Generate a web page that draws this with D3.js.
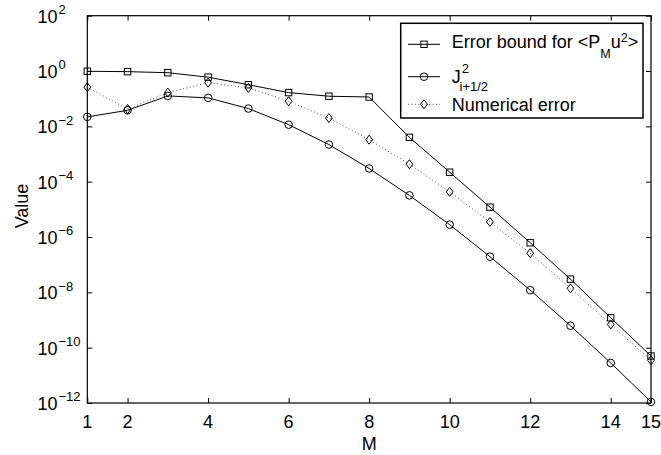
<!DOCTYPE html>
<html>
<head>
<meta charset="utf-8">
<script src="https://cdn.jsdelivr.net/npm/d3@7/dist/d3.min.js"></script>
<style>
  html, body { margin: 0; padding: 0; background: #fff; }
  svg { display: block; font-family: "Liberation Sans", Arial, Helvetica, sans-serif; }
</style>
</head>
<body>
<svg id="chart" width="661" height="455"></svg>
<script>
// Model order M
const orders = [1, 2, 3, 4, 5, 6, 7, 8, 9, 10, 11, 12, 13, 14, 15];

// Error bound for <P_M u^2>
const errorBound = [0.98, 0.95, 0.87, 0.60, 0.32, 0.166, 0.123, 0.115,
  4.0e-3, 2.2e-4, 1.2e-5, 6.2e-7, 3.0e-8, 1.2e-9, 5.0e-11];

// J^2_{i+1/2}
const jSquared = [2.2e-2, 3.8e-2, 0.126, 0.107, 4.4e-2, 1.15e-2, 2.2e-3, 3.0e-4,
  3.2e-5, 2.8e-6, 1.95e-7, 1.2e-8, 6.2e-10, 2.8e-11, 1.1e-12];

// Numerical error
const numericalError = [0.26, 4.2e-2, 0.166, 0.38, 0.245, 8.1e-2, 2.0e-2, 3.3e-3,
  4.3e-4, 4.3e-5, 3.5e-6, 2.6e-7, 1.4e-8, 6.9e-10, 3.5e-11];

// Tick values
const xTicks = [1, 2, 4, 6, 8, 10, 12, 14, 15];
const yTickExponents = [2, 0, -2, -4, -6, -8, -10, -12];

const plotLeft = 87.3, plotRight = 651, plotTop = 15.7, plotBottom = 403;

const svg = d3.select("#chart");
svg.append("rect").attr("width", 661).attr("height", 455).attr("fill", "#fff");

const x = d3.scaleLinear().domain([1, 15]).range([plotLeft, plotRight]);
const y = d3.scaleLog().domain([1e-12, 1e2]).range([plotBottom, plotTop]);
const yTicks = yTickExponents.map(e => Math.pow(10, e));

// Inward ticks on all four sides
function styleAxis(g) {
  g.select(".domain").remove();
  g.selectAll(".tick line").attr("stroke", "#000").attr("stroke-width", 1);
  g.selectAll(".tick text").remove();
}
svg.append("g").attr("transform", `translate(0,${plotBottom})`)
  .call(d3.axisBottom(x).tickValues(xTicks).tickSize(-5).tickSizeOuter(0)).call(styleAxis);
svg.append("g").attr("transform", `translate(0,${plotTop})`)
  .call(d3.axisTop(x).tickValues(xTicks).tickSize(-5).tickSizeOuter(0)).call(styleAxis);
svg.append("g").attr("transform", `translate(${plotLeft},0)`)
  .call(d3.axisLeft(y).tickValues(yTicks).tickSize(-5).tickSizeOuter(0)).call(styleAxis);
svg.append("g").attr("transform", `translate(${plotRight},0)`)
  .call(d3.axisRight(y).tickValues(yTicks).tickSize(-5).tickSizeOuter(0)).call(styleAxis);

// Plot frame
svg.append("rect")
  .attr("x", plotLeft).attr("y", plotTop)
  .attr("width", plotRight - plotLeft).attr("height", plotBottom - plotTop)
  .attr("fill", "none").attr("stroke", "#000").attr("stroke-width", 1.2);

// X tick labels
svg.append("g").selectAll("text").data(xTicks).join("text")
  .attr("x", d => x(d)).attr("y", plotBottom + 24.7)
  .attr("text-anchor", "middle").attr("font-size", 18).attr("fill", "#000")
  .text(d => d);

// Y tick labels as powers of ten
const yl = svg.append("g").selectAll("text").data(yTickExponents).join("text")
  .attr("x", 37.5).attr("y", d => y(Math.pow(10, d)) + 7)
  .attr("font-size", 18).attr("fill", "#000");
yl.append("tspan").text("10");
yl.append("tspan").attr("dx", 1).attr("dy", -8.7).attr("font-size", 13)
  .text(d => d < 0 ? "\u2212" + (-d) : String(d));

// Axis titles
svg.append("text").attr("x", (plotLeft + plotRight) / 2).attr("y", 450)
  .attr("text-anchor", "middle").attr("font-size", 18).text("M");
svg.append("text").attr("transform", "translate(28,206) rotate(-90)")
  .attr("text-anchor", "middle").attr("font-size", 18).text("Value");

// Markers
function drawMarker(g, type, cx, cy) {
  if (type === "square") {
    g.append("rect").attr("x", cx - 3.2).attr("y", cy - 3.2).attr("width", 6.4).attr("height", 6.4)
      .attr("fill", "none").attr("stroke", "#000").attr("stroke-width", 1);
  } else if (type === "circle") {
    g.append("circle").attr("cx", cx).attr("cy", cy).attr("r", 3.8)
      .attr("fill", "none").attr("stroke", "#000").attr("stroke-width", 1);
  } else {
    g.append("path").attr("d", `M${cx},${cy - 4.5}L${cx + 3.4},${cy}L${cx},${cy + 4.5}L${cx - 3.4},${cy}Z`)
      .attr("fill", "none").attr("stroke", "#000").attr("stroke-width", 1);
  }
}

const series = [
  { values: errorBound, marker: "square", dotted: false },
  { values: jSquared, marker: "circle", dotted: false },
  { values: numericalError, marker: "diamond", dotted: true }
];

const line = d3.line().x(d => x(d[0])).y(d => y(d[1]));
series.forEach(s => {
  const pts = orders.map((m, i) => [m, s.values[i]]);
  const g = svg.append("g");
  g.append("path").attr("d", line(pts)).attr("fill", "none")
    .attr("stroke", s.dotted ? "#555" : "#000").attr("stroke-width", 1)
    .attr("stroke-dasharray", s.dotted ? "1,2.5" : null);
  pts.forEach(p => drawMarker(g, s.marker, x(p[0]), y(p[1])));
});

// Legend
const lg = svg.append("g");
lg.append("rect").attr("x", 400.7).attr("y", 23.3).attr("width", 242.3).attr("height", 94.7)
  .attr("fill", "#fff").attr("stroke", "#000").attr("stroke-width", 1.5);
const legendRows = [
  { yc: 44.3, marker: "square", dotted: false },
  { yc: 76.7, marker: "circle", dotted: false },
  { yc: 104.3, marker: "diamond", dotted: true }
];
legendRows.forEach(r => {
  lg.append("line").attr("x1", 408).attr("x2", 440).attr("y1", r.yc).attr("y2", r.yc)
    .attr("stroke", r.dotted ? "#555" : "#000").attr("stroke-width", 1)
    .attr("stroke-dasharray", r.dotted ? "1,2.5" : null);
  drawMarker(lg, r.marker, 424, r.yc);
});
const t1 = lg.append("text").attr("x", 451.7).attr("y", 48.3).attr("font-size", 18);
t1.append("tspan").text("Error bound for <P");
t1.append("tspan").attr("font-size", 12.5).attr("dy", 10).text("M");
t1.append("tspan").attr("dy", -10).text("u");
t1.append("tspan").attr("font-size", 12.5).attr("dy", -6.6).text("2");
t1.append("tspan").attr("dy", 6.6).text(">");

const t2 = lg.append("text").attr("x", 451.7).attr("y", 83.3).attr("font-size", 18);
t2.append("tspan").text("J");
t2.append("tspan").attr("font-size", 13).attr("dy", -10).attr("dx", 1).text("2");
lg.append("text").attr("x", 459.5).attr("y", 91).attr("font-size", 13).text("i+1/2");

lg.append("text").attr("x", 451.7).attr("y", 110.5).attr("font-size", 18).text("Numerical error");
</script>
</body>
</html>
